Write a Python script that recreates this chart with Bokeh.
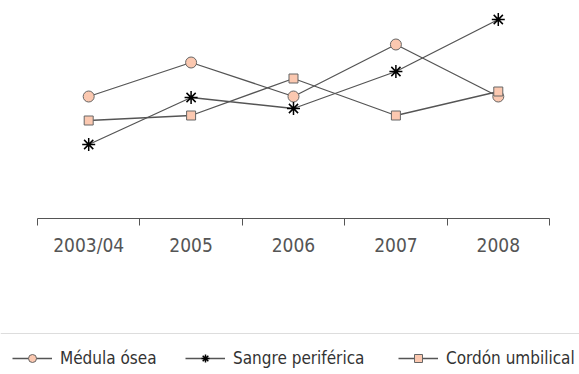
from bokeh.plotting import figure
from bokeh.models import FixedTicker, LinearAxis, Span, Legend, LegendItem, Range1d
from bokeh.embed import file_html
from bokeh.resources import INLINE

categories = ["2003/04", "2005", "2006", "2007", "2008"]
medula = [61, 78, 61, 87, 61]
sangre = [37, 60.5, 55, 73.5, 99.5]
cordon = [49, 51.5, 70, 51.5, 63.5]
series_names = ["Médula ósea", "Sangre periférica", "Cordón umbilical"]

FONT = "DejaVu Sans Condensed"
xs = [i + 0.5 for i in range(len(categories))]

p = figure(width=579, height=374, output_backend="svg", toolbar_location=None,
           x_range=Range1d(-0.3613, 5.293), y_range=Range1d(-78, 109),
           min_border=0, min_border_left=0, min_border_right=0,
           min_border_top=0, min_border_bottom=0, x_axis_location=None, y_axis_location=None)
p.outline_line_color = None
p.xgrid.visible = False
p.ygrid.visible = False
p.background_fill_color = "white"
p.border_fill_color = "white"

ax = LinearAxis(fixed_location=0, bounds=(0, 5))
ax.ticker = FixedTicker(ticks=xs, minor_ticks=list(range(len(categories) + 1)))
ax.major_label_overrides = {x: c for x, c in zip(xs, categories)}
ax.major_tick_out = 0
ax.major_tick_in = 0
ax.minor_tick_out = 7
ax.minor_tick_in = 0
ax.minor_tick_line_color = "#555555"
ax.axis_line_color = "#555555"
ax.axis_line_width = 1.2
ax.major_label_text_font = FONT
ax.major_label_text_font_size = "19px"
ax.major_label_text_color = "#555555"
ax.major_label_standoff = 8
p.add_layout(ax, "below")

p.add_layout(Span(location=-57.5, dimension="width", line_color="#dddddd", line_width=1))

lc = "#555555"
peach = "#fbc8b0"
l1 = p.line(xs, medula, line_color=lc, line_width=1.3)
m1 = p.scatter(xs, medula, marker="circle", size=11, fill_color=peach, line_color="#666666", line_width=1)
l2 = p.line(xs, sangre, line_color=lc, line_width=1.3)
m2 = p.scatter(xs, sangre, marker="asterisk", size=13, line_color="black", line_width=1.5)
l3 = p.line(xs, cordon, line_color=lc, line_width=1.3)
m3 = p.scatter(xs, cordon, marker="square", size=9, fill_color=peach, line_color="#666666", line_width=1)

for name, rs, xloc in zip(series_names, [[l1, m1], [l2, m2], [l3, m3]], [12, 185, 398]):
    lg = Legend(items=[LegendItem(label=name, renderers=rs)],
                orientation="horizontal", location=(xloc, 5), glyph_width=40, glyph_height=20,
                label_standoff=8, padding=0, margin=0, label_height=22,
                label_text_font=FONT, label_text_font_size="17px", label_text_color="#333333",
                background_fill_alpha=0, border_line_color=None)
    p.add_layout(lg, "center")

open("out.html", "w").write(file_html(p, INLINE))
